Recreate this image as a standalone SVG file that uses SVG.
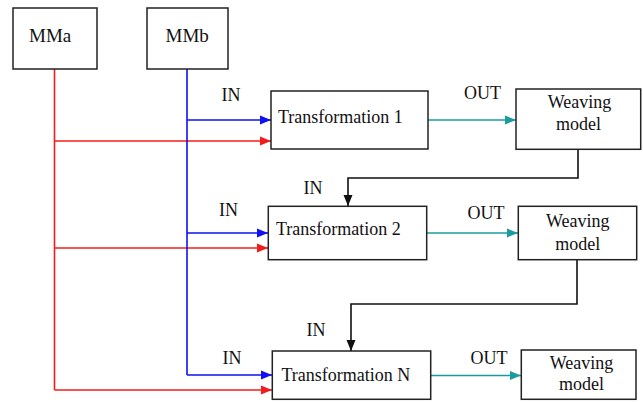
<svg xmlns="http://www.w3.org/2000/svg" width="643" height="402" viewBox="0 0 643 402">
<style>
.box{fill:#fff;stroke:#222;stroke-width:1.5}
text{font-family:"Liberation Serif","Times New Roman",serif;font-size:18px;fill:#111}
.c{stroke-width:1.6;fill:none}
.red{stroke:#f21c1c}
.blue{stroke:#1010f0}
.teal{stroke:#1a9c9c}
.blk{stroke:#111}
.mid{text-anchor:middle}
</style>
<defs>
<marker id="ar" markerUnits="userSpaceOnUse" markerWidth="12" markerHeight="10" refX="11" refY="5" orient="auto"><path d="M0,0.5 L11,5 L0,9.5 Z" fill="#f21c1c"/></marker>
<marker id="ab" markerUnits="userSpaceOnUse" markerWidth="12" markerHeight="10" refX="11" refY="5" orient="auto"><path d="M0,0.5 L11,5 L0,9.5 Z" fill="#1010f0"/></marker>
<marker id="at" markerUnits="userSpaceOnUse" markerWidth="12" markerHeight="10" refX="11" refY="5" orient="auto"><path d="M0,0.5 L11,5 L0,9.5 Z" fill="#1a9c9c"/></marker>
<marker id="ak" markerUnits="userSpaceOnUse" markerWidth="12" markerHeight="10" refX="11" refY="5" orient="auto"><path d="M0,0.5 L11,5 L0,9.5 Z" fill="#111"/></marker>
</defs>
<g id="connectors">
<path class="c red" d="M54.5,69 V390"/>
<path class="c red" d="M54.5,141 H271" marker-end="url(#ar)"/>
<path class="c red" d="M54.5,248 H268" marker-end="url(#ar)"/>
<path class="c red" d="M54.5,390 H272" marker-end="url(#ar)"/>
<path class="c blue" d="M187,69 V375"/>
<path class="c blue" d="M187,120 H271" marker-end="url(#ab)"/>
<path class="c blue" d="M187,233 H268" marker-end="url(#ab)"/>
<path class="c blue" d="M187,375 H272" marker-end="url(#ab)"/>
<path class="c teal" d="M428,120 H516" marker-end="url(#at)"/>
<path class="c teal" d="M427,233 H518" marker-end="url(#at)"/>
<path class="c teal" d="M431,375.5 H521" marker-end="url(#at)"/>
<path class="c blk" d="M578,150 V178 H348 V206" marker-end="url(#ak)"/>
<path class="c blk" d="M577,260 V304 H351 V351" marker-end="url(#ak)"/>
<text x="221.5" y="100.5">IN</text>
<text x="219" y="215.5">IN</text>
<text x="222.5" y="364">IN</text>
<text x="303.5" y="193.5">IN</text>
<text x="306.5" y="336">IN</text>
<text x="464" y="99">OUT</text>
<text x="467.5" y="218.5">OUT</text>
<text x="470.5" y="363.5">OUT</text>
</g>
<g id="MMa"><rect class="box" x="13" y="8" width="84" height="61"/><text x="29" y="41.5" style="font-size:19px">MMa</text></g>
<g id="MMb"><rect class="box" x="147" y="8" width="81" height="61"/><text x="165.5" y="41.5" style="font-size:19px">MMb</text></g>
<g id="t1"><rect class="box" x="271" y="91" width="157" height="58"/><text x="278" y="123.3">Transformation 1</text></g>
<g id="t2"><rect class="box" x="268.3" y="206.3" width="158.4" height="53.4"/><text x="276" y="234.7">Transformation 2</text></g>
<g id="tN"><rect class="box" x="272.3" y="351" width="158.4" height="48.3"/><text x="281.5" y="380.7">Transformation N</text></g>
<g id="w1"><rect class="box" x="516" y="89" width="124.7" height="60.3"/><text class="mid" x="579.5" y="107.7">Weaving</text><text class="mid" x="578.5" y="130">model</text></g>
<g id="w2"><rect class="box" x="518.3" y="206.3" width="118.4" height="53.4"/><text class="mid" x="577.7" y="227.3">Weaving</text><text class="mid" x="577.7" y="249.7">model</text></g>
<g id="wN"><rect class="box" x="521.3" y="350" width="114.7" height="49.3"/><text class="mid" x="581.5" y="369.3">Weaving</text><text class="mid" x="581.5" y="390">model</text></g>
</svg>
